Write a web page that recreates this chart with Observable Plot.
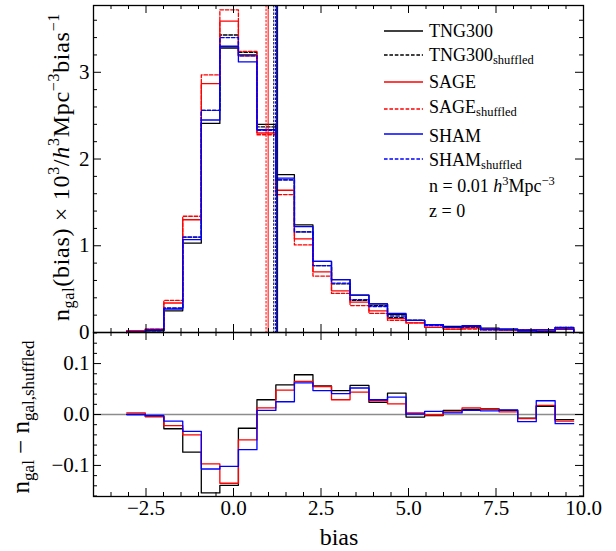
<!DOCTYPE html>
<html><head><meta charset="utf-8">
<script src="https://cdn.jsdelivr.net/npm/d3@7"></script>
<script src="https://cdn.jsdelivr.net/npm/@observablehq/plot@0.6"></script>
<style>
body{margin:0;background:#fff;}
#wrap{position:relative;width:616px;height:551px;font-family:"Liberation Serif",serif;}
#wrap svg{position:absolute;left:0;overflow:visible;background:transparent;}
#wrap svg text, #wrap svg tspan{font-family:"Liberation Serif",serif !important;}
</style></head><body><div id="wrap"></div>
<script>
// ---------------- data ----------------
const binEdges = [-3.05, -2.52, -1.99, -1.45, -0.92, -0.39, 0.14, 0.67, 1.21, 1.74, 2.27, 2.80, 3.33,
                  3.87, 4.40, 4.93, 5.46, 5.99, 6.53, 7.06, 7.59, 8.12, 8.65, 9.19, 9.72];
const tng      = [0.01, 0.02, 0.25, 1.03, 2.41, 3.28, 3.20, 2.40, 1.82, 1.24, 0.82, 0.61, 0.43, 0.33, 0.21, 0.14, 0.09, 0.07, 0.07, 0.05, 0.04, 0.02, 0.03, 0.05];
const tngShuf  = [0.01, 0.02, 0.28, 1.10, 2.56, 3.43, 3.23, 2.37, 1.76, 1.16, 0.77, 0.56, 0.37, 0.31, 0.17, 0.14, 0.09, 0.06, 0.06, 0.04, 0.03, 0.03, 0.01, 0.06];
const sage     = [0.02, 0.04, 0.34, 1.30, 2.87, 3.59, 3.19, 2.30, 1.64, 1.08, 0.70, 0.48, 0.35, 0.25, 0.16, 0.11, 0.06, 0.04, 0.05, 0.04, 0.03, 0.02, 0.03, 0.04];
const sageShuf = [0.02, 0.04, 0.37, 1.34, 2.97, 3.72, 3.24, 2.28, 1.59, 1.01, 0.65, 0.45, 0.31, 0.22, 0.14, 0.11, 0.06, 0.04, 0.04, 0.03, 0.03, 0.03, 0.01, 0.05];
const sham     = [0.01, 0.03, 0.27, 1.07, 2.45, 3.30, 3.12, 2.34, 1.78, 1.22, 0.82, 0.61, 0.43, 0.33, 0.22, 0.14, 0.09, 0.06, 0.08, 0.04, 0.04, 0.02, 0.03, 0.04];
const shamShuf = [0.01, 0.03, 0.28, 1.10, 2.56, 3.40, 3.19, 2.33, 1.76, 1.16, 0.77, 0.57, 0.38, 0.30, 0.19, 0.14, 0.08, 0.06, 0.07, 0.03, 0.03, 0.03, 0.01, 0.06];
const diffTng  = [0.000, -0.004, -0.028, -0.074, -0.154, -0.139, -0.027, 0.029, 0.058, 0.078, 0.056, 0.047, 0.057, 0.024, 0.042, -0.005, -0.002, 0.008, 0.010, 0.011, 0.008, -0.007, 0.016, -0.010];
const diffSage = [0.003, -0.004, -0.022, -0.040, -0.097, -0.135, -0.050, 0.013, 0.048, 0.065, 0.055, 0.029, 0.044, 0.027, 0.021, 0.003, -0.001, 0.005, 0.013, 0.010, 0.005, -0.008, 0.018, -0.013];
const diffSham = [0.000, -0.002, -0.013, -0.033, -0.107, -0.102, -0.069, 0.008, 0.025, 0.062, 0.047, 0.041, 0.052, 0.029, 0.034, 0.001, 0.006, 0.003, 0.008, 0.007, 0.009, -0.014, 0.027, -0.018];
const meanTng = 1.26, meanTngShuf = 1.15, meanSage = 0.99, meanSageShuf = 0.93, meanSham = 1.23, meanShamShuf = 1.20;
const seriesNames = ["TNG300", "SAGE", "SHAM"];
const xTickLabels = [-2.5, 0, 2.5, 5, 7.5, 10];
const yTopTickLabels = [0, 1, 2, 3];
const yBotTickLabels = [-0.1, 0, 0.1];
const densityText = "n = 0.01";
const redshiftText = "z = 0";

// ---------------- layout / style ----------------
const W = 616, ML = 93, MR = 33;
const innerW = W - ML - MR;
const font = '"Liberation Serif", serif';
const colors = ["#000000", "#ff0000", "#0000ff"];
const dash = "3.6,1.8";
const lw = 1.3;
const fmt = d => d3.format(".1f")(d).replace("-", "\u2212");

const topSeries = [
  {v: tng, c: colors[0], d: null}, {v: tngShuf, c: colors[0], d: dash},
  {v: sage, c: colors[1], d: null}, {v: sageShuf, c: colors[1], d: dash},
  {v: sham, c: colors[2], d: null}, {v: shamShuf, c: colors[2], d: dash}
];
const means = [
  {m: meanTng, c: colors[0], d: null}, {m: meanTngShuf, c: colors[0], d: dash},
  {m: meanSage, c: colors[1], d: null}, {m: meanSageShuf, c: colors[1], d: dash},
  {m: meanSham, c: colors[2], d: null}, {m: meanShamShuf, c: colors[2], d: dash}
];
const botSeries = [{v: diffTng, c: colors[0]}, {v: diffSage, c: colors[1]}, {v: diffSham, c: colors[2]}];

function stepPoints(vals, base) {
  const pts = [];
  if (base) pts.push({x: binEdges[0], y: 0});
  vals.forEach((v, i) => { pts.push({x: binEdges[i], y: v}); pts.push({x: binEdges[i + 1], y: v}); });
  if (base) pts.push({x: binEdges[binEdges.length - 1], y: 0});
  return pts;
}

const xMinor = d3.range(-3.5, 10, 0.5).filter(v => Math.abs(v / 2.5 - Math.round(v / 2.5)) > 1e-6);

function tickMarks(xMaj, xMin, yMaj, yMin, innerH) {
  const M = 8, m = 4, sw = 1;
  const o = {stroke: "black", strokeWidth: sw};
  return [
    Plot.tickX(xMaj, {...o, x: d => d, insetTop: innerH - M}),
    Plot.tickX(xMaj, {...o, x: d => d, insetBottom: innerH - M}),
    Plot.tickX(xMin, {...o, x: d => d, insetTop: innerH - m}),
    Plot.tickX(xMin, {...o, x: d => d, insetBottom: innerH - m}),
    Plot.tickY(yMaj, {...o, y: d => d, insetRight: innerW - M}),
    Plot.tickY(yMaj, {...o, y: d => d, insetLeft: innerW - M}),
    Plot.tickY(yMin, {...o, y: d => d, insetRight: innerW - m}),
    Plot.tickY(yMin, {...o, y: d => d, insetLeft: innerW - m})
  ];
}

// ---------------- top panel ----------------
const topH = 334, topMT = 5, topMB = 2;
const topInner = topH - topMT - topMB;
const yTopMinor = d3.range(0.2, 3.77, 0.2).filter(v => Math.abs(v - Math.round(v)) > 1e-6);
const topPlot = Plot.plot({
  width: W, height: topH, marginLeft: ML, marginRight: MR, marginTop: topMT, marginBottom: topMB,
  style: {fontFamily: font, fontSize: "21px", background: "transparent", color: "black"},
  x: {domain: [-4, 10]},
  y: {domain: [0, 3.77]},
  marks: [
    ...topSeries.map(s => Plot.line(stepPoints(s.v, true), {x: "x", y: "y", stroke: s.c, strokeWidth: lw, strokeDasharray: s.d})),
    ...means.map(s => Plot.ruleX([s.m], {x: d => d, stroke: s.c, strokeWidth: 1, strokeDasharray: s.d ? "2.5,1.2" : null})),
    ...tickMarks(xTickLabels, xMinor, yTopTickLabels, yTopMinor, topInner),
    Plot.axisY({ticks: yTopTickLabels, tickSize: 0, tickPadding: 4, tickFormat: d => String(d), label: null}),
    Plot.axisX({ticks: [], label: null, tickSize: 0}),
    Plot.frame({stroke: "black", strokeWidth: 1.3})
  ]
});
topPlot.style.top = "0px";
document.getElementById("wrap").appendChild(topPlot);

// ---------------- bottom panel ----------------
const botH = 221, botMT = 2, botMB = 55;
const botInner = botH - botMT - botMB;
const yBotMinor = d3.range(-0.16, 0.161, 0.02).filter(v => Math.abs(v * 10 - Math.round(v * 10)) > 1e-6);
const botPlot = Plot.plot({
  width: W, height: botH, marginLeft: ML, marginRight: MR, marginTop: botMT, marginBottom: botMB,
  style: {fontFamily: font, fontSize: "21px", background: "transparent", color: "black"},
  x: {domain: [-4, 10]},
  y: {domain: [-0.161, 0.161]},
  marks: [
    Plot.ruleY([0], {y: d => d, stroke: "#8c8c8c", strokeWidth: 1.3}),
    ...botSeries.map(s => Plot.line(stepPoints(s.v, false), {x: "x", y: "y", stroke: s.c, strokeWidth: lw})),
    ...tickMarks(xTickLabels, xMinor, yBotTickLabels, yBotMinor, botInner),
    Plot.axisY({ticks: yBotTickLabels, tickSize: 0, tickPadding: 4, tickFormat: fmt, label: null}),
    Plot.axisX({ticks: xTickLabels, tickSize: 0, tickPadding: 4, tickFormat: fmt, label: null}),
    Plot.frame({stroke: "black", strokeWidth: 1.3})
  ]
});
botPlot.style.top = "330px";
document.getElementById("wrap").appendChild(botPlot);

// ---------------- overlay: axis labels and legend ----------------
const ov = d3.select("#wrap").append("svg")
  .attr("width", W).attr("height", 551).style("top", "0px").style("pointer-events", "none")
  .attr("font-family", font).attr("fill", "black");

function rich(sel, parts) {
  let shift = 0;
  for (const p of parts) {
    const ts = sel.append("tspan").text(p.t);
    if (p.size) ts.attr("font-size", p.size);
    const target = p.dy || 0;
    if (target - shift !== 0) ts.attr("dy", target - shift);
    shift = target;
    if (p.it) ts.attr("font-style", "italic");
  }
}

// top y label
rich(ov.append("text").attr("transform", "translate(69,167) rotate(-90)").attr("text-anchor", "middle")
  .attr("font-size", 24).attr("letter-spacing", "0.7px"), [
  {t: "n"}, {t: "gal", size: 16, dy: 5}, {t: "(bias) \u00d7 10"}, {t: "3", size: 16, dy: -10},
  {t: "/"}, {t: "h", it: true}, {t: "3", size: 16, dy: -10}, {t: "Mpc"}, {t: "\u22123", size: 16, dy: -10},
  {t: "bias"}, {t: "\u22121", size: 16, dy: -10}
]);
// bottom y label
rich(ov.append("text").attr("transform", "translate(29,417) rotate(-90)").attr("text-anchor", "middle")
  .attr("font-size", 25), [
  {t: "n"}, {t: "gal", size: 17, dy: 5}, {t: " \u2212 n"}, {t: "gal,shuffled", size: 17, dy: 5}
]);
// x label
ov.append("text").attr("x", 339).attr("y", 545).attr("text-anchor", "middle").attr("font-size", 24).text("bias");

// legend
const legRows = [
  {name: seriesNames[0], sub: false, c: colors[0], d: null, ly: 31, ty: 37},
  {name: seriesNames[0], sub: true, c: colors[0], d: dash, ly: 55, ty: 61},
  {name: seriesNames[1], sub: false, c: colors[1], d: null, ly: 82, ty: 88},
  {name: seriesNames[1], sub: true, c: colors[1], d: dash, ly: 109, ty: 113},
  {name: seriesNames[2], sub: false, c: colors[2], d: null, ly: 134, ty: 141.5},
  {name: seriesNames[2], sub: true, c: colors[2], d: dash, ly: 159, ty: 166}
];
for (const r of legRows) {
  ov.append("line").attr("x1", 384).attr("x2", 423).attr("y1", r.ly).attr("y2", r.ly)
    .attr("stroke", r.c).attr("stroke-width", lw).attr("stroke-dasharray", r.d);
  const t = ov.append("text").attr("x", 429).attr("y", r.ty).attr("font-size", 18);
  const parts = [{t: r.name}];
  if (r.sub) parts.push({t: "shuffled", size: 12.5, dy: 3});
  rich(t, parts);
}
rich(ov.append("text").attr("x", 429).attr("y", 191.5).attr("font-size", 18).attr("xml:space", "preserve"), [
  {t: densityText + " "}, {t: "h", it: true}, {t: "3", size: 12.5, dy: -7}, {t: "Mpc"}, {t: "\u22123", size: 12.5, dy: -7}
]);
ov.append("text").attr("x", 429).attr("y", 216.5).attr("font-size", 18).text(redshiftText);
</script></body></html>
